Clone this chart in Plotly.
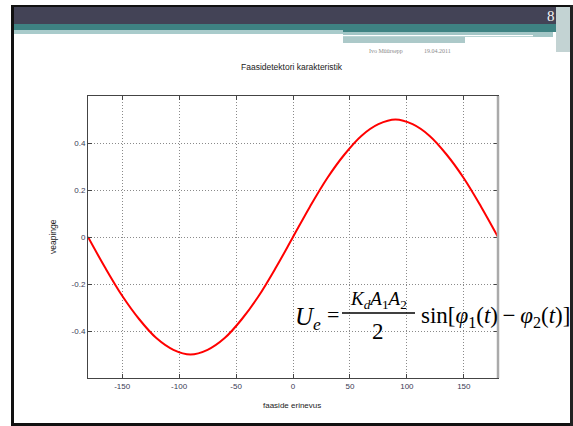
import plotly.graph_objects as go

# Phase difference (degrees) and detector output voltage
phase_deg = [-180, -165, -150, -135, -120, -105, -90, -75, -60, -45, -30, -15, 0,
             15, 30, 45, 60, 75, 90, 105, 120, 135, 150, 165, 180]
error_voltage = [0.0, -0.13, -0.25, -0.35, -0.43, -0.48, -0.50, -0.48, -0.43, -0.35, -0.25, -0.13, 0.0,
                 0.13, 0.25, 0.35, 0.43, 0.48, 0.50, 0.48, 0.43, 0.35, 0.25, 0.13, 0.0]

x_tick_vals = [-150, -100, -50, 0, 50, 100, 150]
x_tick_text = ["-150", "-100", "-50", "0", "50", "100", "150"]
y_tick_vals = [-0.4, -0.2, 0, 0.2, 0.4]
y_tick_text = ["-0.4", "-0.2", "0", "0.2", "0.4"]

W, H = 573, 426
L, R, T, B = 88, 498, 96, 378


def fx(px):
    return (px - L) / (R - L)


def fy(py):
    return (B - py) / (B - T)


def rect(x0, y0, x1, y1, color):
    return dict(type="rect", xref="paper", yref="paper",
                x0=fx(x0), x1=fx(x1), y0=fy(y0), y1=fy(y1),
                fillcolor=color, line=dict(width=0), layer="above")


def label(px, py, text, size, color="#222", family="Liberation Sans",
          xanchor="center", yanchor="middle", angle=0):
    return dict(xref="paper", yref="paper", x=fx(px), y=fy(py), text=text,
                showarrow=False, xanchor=xanchor, yanchor=yanchor, textangle=angle,
                borderpad=0, font=dict(size=size, color=color, family=family))


fig = go.Figure()
fig.add_trace(go.Scatter(x=phase_deg, y=error_voltage, mode="lines",
                         line=dict(color="#ff0000", width=2, shape="spline"),
                         hoverinfo="skip"))

axis_common = dict(showgrid=True, gridcolor="#8a8a8a", griddash="1px,2px", gridwidth=1,
                   zeroline=False, showline=True, linecolor="#444444", linewidth=1,
                   mirror="allticks", ticks="inside", ticklen=4, tickcolor="#444444",
                   tickfont=dict(family="Liberation Sans", size=8, color="#3a3a55"))

fig.update_xaxes(range=[-180, 180], tickvals=x_tick_vals, ticktext=x_tick_text, **axis_common)
fig.update_yaxes(range=[-0.6, 0.6], tickvals=y_tick_vals, ticktext=y_tick_text, **axis_common)

shapes = [
    # slide frame
    rect(12, 5, 573, 7, "#111111"),
    rect(11, 5, 14, 426, "#111111"),
    rect(12, 423, 573, 426, "#111111"),
    rect(570, 5, 573, 426, "#222222"),
    # header bands
    rect(14, 7, 570, 24, "#434356"),
    rect(14, 24, 343, 30, "#3e8282"),
    rect(343, 24, 570, 32, "#3e8282"),
    rect(14, 30, 343, 34, "#a9cbcb"),
    rect(343, 32, 553, 37, "#a3c6c6"),
    rect(343, 35, 533, 36.3, "#ffffff"),
    rect(343, 37, 465, 43, "#acc9c9"),
    rect(556, 7, 570, 52, "#c3d3d3"),
    # right frame of the plot
    dict(type="line", xref="paper", yref="paper", x0=1, x1=1, y0=0, y1=1,
         line=dict(color="#aaaaaa", width=2.5), layer="above"),
    # fraction bar
    dict(type="line", xref="paper", yref="paper", x0=fx(342), x1=fx(415),
         y0=fy(313), y1=fy(313), line=dict(color="#000000", width=1.3), layer="above"),
]

serif = "Liberation Serif"
annotations = [
    label(551, 16, "8", 15, color="#f4f4f4", family=serif),
    label(386, 50.5, "Ivo Müürsepp", 6, color="#8a8a8a", family=serif),
    label(437, 50.5, "19.04.2011", 6, color="#8a8a8a", family=serif),
    label(292, 67, "Faasidetektori karakteristik", 8.5, color="#222222"),
    label(53, 237, "veapinge", 8.5, color="#222222", angle=-90),
    label(292, 405, "faaside erinevus", 8, color="#222222"),
    # U_e = K_d A1 A2 / 2 * sin[phi1(t) - phi2(t)]
    label(294, 318, "<i>U</i><sub><i>e</i></sub>", 25, color="#000000", family=serif, xanchor="left"),
    label(333, 314, "=", 22, color="#000000", family=serif),
    label(378, 300, "<i>K</i><sub><i>d</i></sub><i>A</i><sub>1</sub><i>A</i><sub>2</sub>", 19,
          color="#000000", family=serif),
    label(378, 331, "2", 23, color="#000000", family=serif),
    label(571, 317, "sin[<i>φ</i><sub>1</sub>(<i>t</i>)\u2009−\u2009<i>φ</i><sub>2</sub>(<i>t</i>)]", 23,
          color="#000000", family=serif, xanchor="right"),
]

fig.update_layout(width=W, height=H, margin=dict(l=L, r=W - R, t=T, b=H - B),
                  paper_bgcolor="#ffffff", plot_bgcolor="#ffffff", showlegend=False,
                  shapes=shapes, annotations=annotations)

fig.write_html("out.html")
